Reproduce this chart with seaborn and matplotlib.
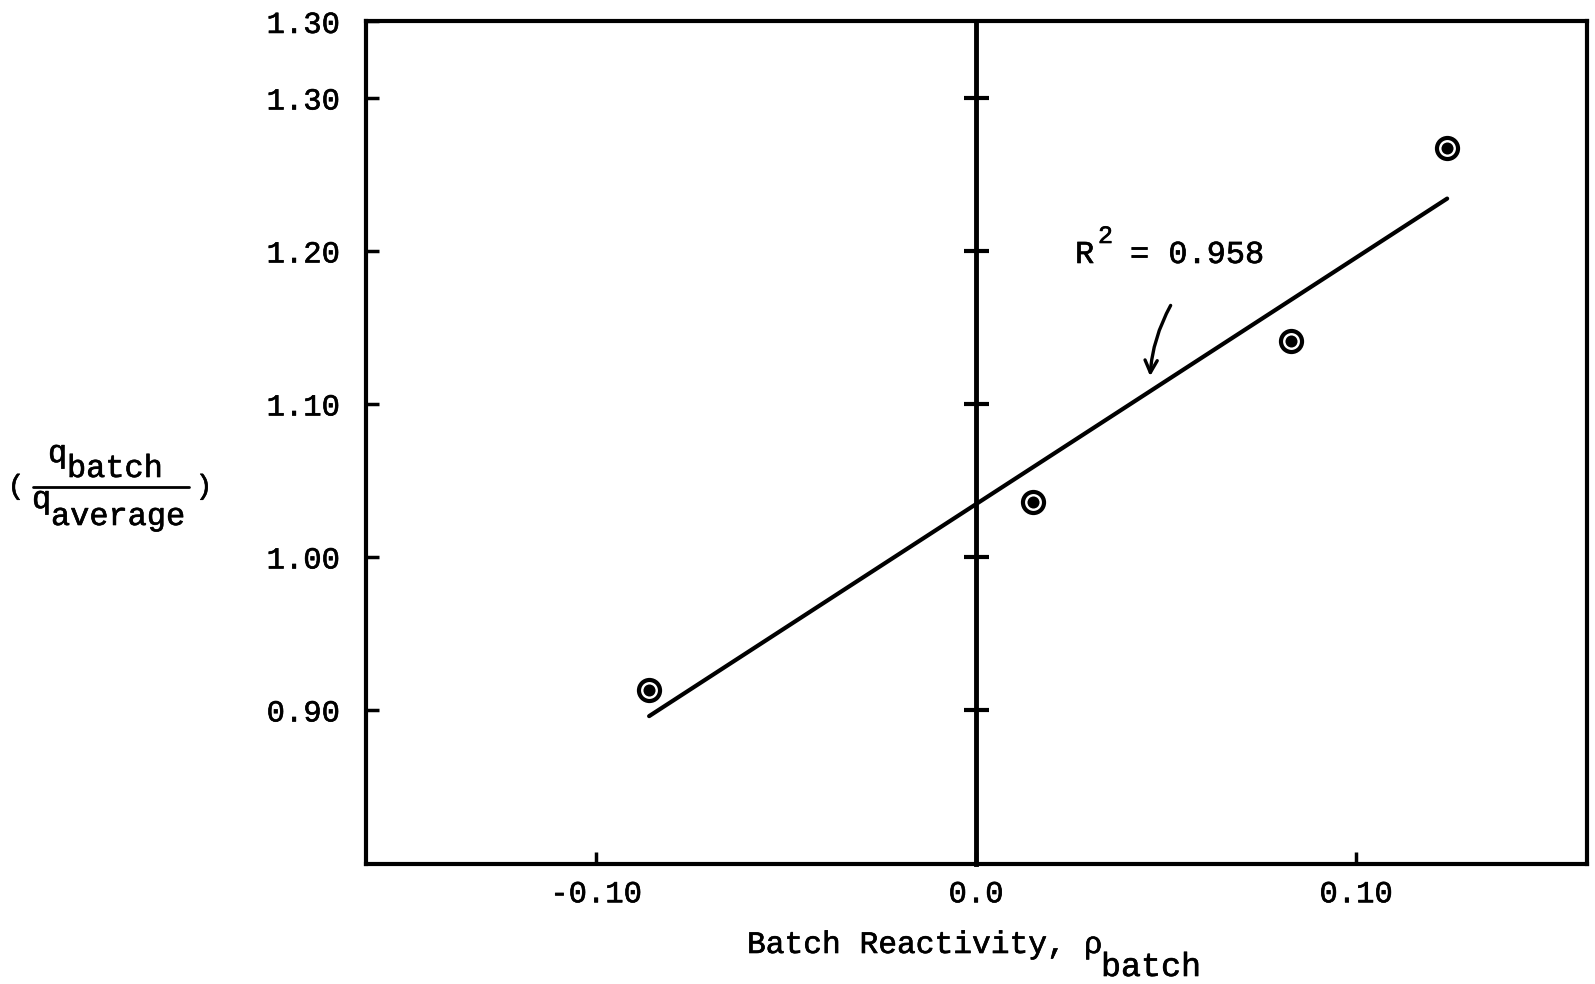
import numpy as np
import pandas as pd
import matplotlib
matplotlib.use("Agg")
import matplotlib.pyplot as plt
from matplotlib.lines import Line2D
import matplotlib.patheffects as pe
import seaborn as sns

# ---- data ----
reactivity = [-0.086, 0.015, 0.083, 0.124]
power_ratio = [0.913, 1.036, 1.141, 1.267]
x_ticks = [-0.10, 0.0, 0.10]
x_tick_labels = ["-0.10", "0.0", "0.10"]
y_ticks = [1.35, 1.30, 1.20, 1.10, 1.00, 0.90]
y_tick_labels = ["1.30", "1.30", "1.20", "1.10", "1.00", "0.90"]
zero_line_ticks = [1.30, 1.20, 1.10, 1.00, 0.90]
r_squared = "0.958"

sns.set_theme(style="white")
plt.rcParams["font.family"] = ["Liberation Mono", "DejaVu Sans"]
plt.rcParams["text.color"] = "black"

heavy = [pe.withStroke(linewidth=0.45, foreground="black")]

df = pd.DataFrame({"rho": reactivity, "q": power_ratio})

W, H = 1595, 984
fig = plt.figure(figsize=(W / 100, H / 100), dpi=100)
fig.patch.set_facecolor("white")


def fx(px):
    return px / W


def fy(py):
    return 1 - py / H


ax = fig.add_axes([fx(366), fy(864), (1587 - 366) / W, (864 - 21) / H])
ax.set_facecolor("white")

XMIN, XMAX = -0.1605, 0.1608
YMIN, YMAX = 0.7993, 1.3503

sns.regplot(data=df, x="rho", y="q", ax=ax, ci=None, scatter=False,
            truncate=True, line_kws=dict(color="black", lw=3.0,
                                         solid_capstyle="round"))
sns.scatterplot(data=df, x="rho", y="q", ax=ax, s=230, marker="o",
                facecolor="white", edgecolor="black", linewidth=3.0,
                zorder=3, legend=False)
sns.scatterplot(data=df, x="rho", y="q", ax=ax, s=75, marker="o",
                color="black", edgecolor="black", linewidth=0,
                zorder=4, legend=False)

ax.set_xlim(XMIN, XMAX)
ax.set_ylim(YMIN, YMAX)
ax.set_xlabel("")
ax.set_ylabel("")
for sp in ax.spines.values():
    sp.set_linewidth(3.0)
    sp.set_color("black")
    sp.set_visible(True)

ax.set_xticks(x_ticks, x_tick_labels)
ax.set_yticks(y_ticks, y_tick_labels)
ax.tick_params(axis="both", direction="in", length=9, width=2.5,
               labelsize=22, colors="black")
ax.tick_params(axis="y", pad=19, left=True, right=False)
ax.tick_params(axis="x", pad=11, bottom=True, top=False)
for lab in ax.get_xticklabels() + ax.get_yticklabels():
    lab.set_path_effects(heavy)

# vertical zero line with crossing ticks
loc = (0 - XMIN) / (XMAX - XMIN)
sec = ax.secondary_yaxis(loc)
sec.set_yticks(zero_line_ticks)
sec.tick_params(direction="inout", length=18, width=3, labelleft=False,
                labelright=False, colors="black")
for sp in sec.spines.values():
    sp.set_linewidth(3.5)
    sp.set_color("black")


def txt(x, y, s, **kw):
    t = fig.text(fx(x), fy(y), s, **kw)
    t.set_path_effects(heavy)
    return t


# ---- y label: ( q_batch / q_average ) ----
fs_frac = 23
txt(16, 487, "(", ha="center", va="center", fontsize=20)
txt(204, 487, ")", ha="center", va="center", fontsize=20)
txt(48, 462, "q", ha="left", va="baseline", fontsize=fs_frac)
txt(67, 477, "batch", ha="left", va="baseline", fontsize=fs_frac)
fig.add_artist(Line2D([fx(33), fx(189)], [fy(487), fy(487)],
                      transform=fig.transFigure, color="black", lw=2.0))
txt(32, 508, "q", ha="left", va="baseline", fontsize=fs_frac)
txt(51, 525, "average", ha="left", va="baseline", fontsize=fs_frac)

# ---- x label: Batch Reactivity, rho_batch ----
txt(747, 953, "Batch Reactivity,", ha="left", va="baseline", fontsize=22.5)
txt(1084, 953, "\u03c1", ha="left", va="baseline", fontsize=22)
txt(1101, 976, "batch", ha="left", va="baseline", fontsize=24)

# ---- R^2 annotation ----
txt(1075, 263, "R", ha="left", va="baseline", fontsize=23)
txt(1098, 243, "2", ha="left", va="baseline", fontsize=18)
txt(1130, 263, "= " + r_squared, ha="left", va="baseline", fontsize=23)
ax.annotate("", xy=(1150, H - 379), xycoords="figure pixels",
            xytext=(1172, H - 303), textcoords="figure pixels",
            arrowprops=dict(arrowstyle="->", color="black", lw=2.4,
                            mutation_scale=22,
                            connectionstyle="arc3,rad=0.12"))

fig.savefig("out.png", dpi=100, facecolor="white")
